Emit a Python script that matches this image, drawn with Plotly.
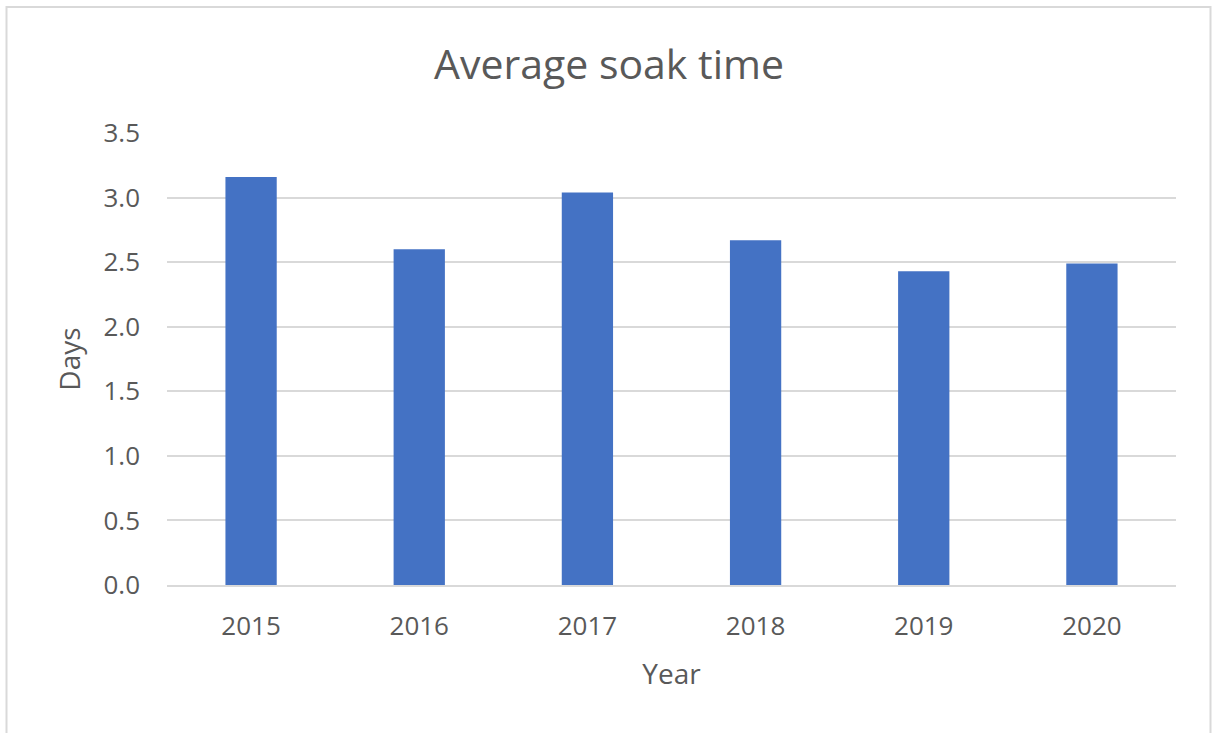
import plotly.graph_objects as go

# Average soak time per year (days)
years = ["2015", "2016", "2017", "2018", "2019", "2020"]
soak_days = [3.16, 2.60, 3.04, 2.67, 2.43, 2.49]
y_ticks = [0.0, 0.5, 1.0, 1.5, 2.0, 2.5, 3.0, 3.5]
y_tick_text = [f"{v:.1f}" for v in y_ticks]

W, H = 1212, 733
L, R, T, B = 167, 36, 133, 148
plot_w = W - L - R
plot_h = H - T - B

text_color = "#595959"
grid_color = "#D9D9D9"
font_family = "Open Sans, Noto Sans, sans-serif"

fig = go.Figure(
    go.Bar(
        x=years,
        y=soak_days,
        marker=dict(color="#4472C4", line=dict(width=0)),
        hoverinfo="x+y",
    )
)

def px_to_paper_x(px):
    return (px - L) / plot_w

def px_to_paper_y(py):
    return (H - B - py) / plot_h

# Light frame around the whole chart area
fig.add_shape(
    type="rect",
    xref="paper", yref="paper",
    x0=px_to_paper_x(6.5), x1=px_to_paper_x(1210.5),
    y0=px_to_paper_y(745), y1=px_to_paper_y(7),
    line=dict(color=grid_color, width=2),
    fillcolor="rgba(0,0,0,0)",
    layer="below",
)

fig.update_layout(
    width=W,
    height=H,
    margin=dict(l=L, r=R, t=T, b=B, autoexpand=False),
    paper_bgcolor="white",
    plot_bgcolor="white",
    bargap=0.695,
    showlegend=False,
    font=dict(family=font_family, color=text_color),
    title=dict(
        text="Average soak time",
        x=609 / W,
        xref="container",
        xanchor="center",
        y=1 - 65 / H,
        yref="container",
        yanchor="middle",
        font=dict(size=41, color=text_color, family=font_family),
    ),
    xaxis=dict(
        showgrid=False,
        showline=True,
        linecolor=grid_color,
        linewidth=2,
        ticks="",
        tickfont=dict(size=26, color=text_color),
        ticklabelstandoff=17,
        title=dict(text="Year", font=dict(size=28, color=text_color), standoff=22),
    ),
    yaxis=dict(
        range=[0, 3.5],
        tickvals=y_ticks,
        ticktext=y_tick_text,
        showgrid=True,
        gridcolor=grid_color,
        gridwidth=2,
        zeroline=False,
        showline=False,
        ticks="",
        tickfont=dict(size=26, color=text_color),
        ticklabelstandoff=26,
        title=dict(text="Days", font=dict(size=28, color=text_color), standoff=14),
    ),
)

fig.write_html("out.html")
